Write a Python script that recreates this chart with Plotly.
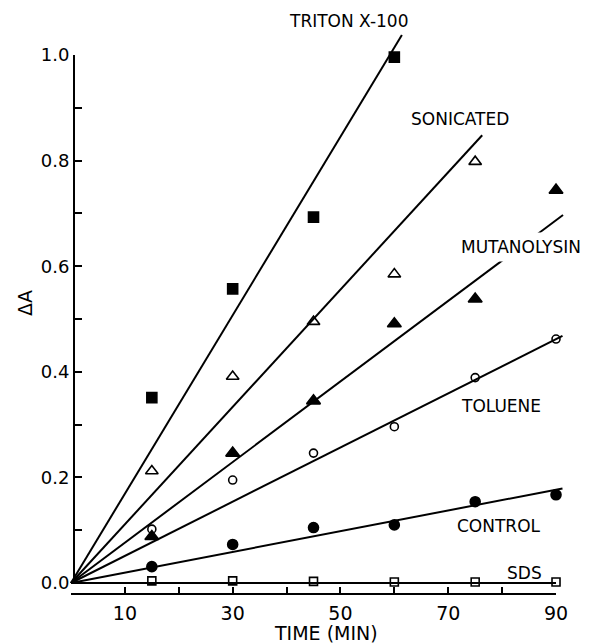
import plotly.graph_objects as go

# ---------------- data ----------------
times = [15, 30, 45, 60, 75, 90]

series_names = ["TRITON X-100", "SONICATED", "MUTANOLYSIN", "TOLUENE", "CONTROL", "SDS"]

triton = [0.351, 0.557, 0.693, 0.996]
sonicated = [0.212, 0.391, 0.495, 0.585, 0.798]
mutanolysin = [0.088, 0.246, 0.345, 0.491, 0.538, 0.744]
toluene = [0.102, 0.195, 0.246, 0.296, 0.389, 0.462]
control = [0.031, 0.073, 0.105, 0.110, 0.154, 0.167]
sds = [0.004, 0.004, 0.003, 0.002, 0.002, 0.002]

# fitted lines through the origin: end point (time, dA)
line_end_time = [61.4, 76.3, 91.3, 91.2, 91.2, 90.0]
line_end_value = [1.038, 0.848, 0.697, 0.468, 0.179, 0.0]

x_tick_vals = [10, 30, 50, 70, 90]
x_minor_vals = [20, 40, 60, 80]
y_tick_vals = [0.0, 0.2, 0.4, 0.6, 0.8, 1.0]
y_tick_text = ["0.0", "0.2", "0.4", "0.6", "0.8", "1.0"]

# ---------------- geometry (pixels) ----------------
W, H = 590, 643
ML, MR, MT, MB = 40, 5, 5, 45
PW, PH = W - ML - MR, H - MT - MB
PX0, PXS = 71.0, 5.389     # x pixel of t=0, px per minute
PY0, PYS = 583.0, 528.0    # y pixel of dA=0, px per unit

def t_of(px):
    return (px - PX0) / PXS

def v_of(py):
    return (PY0 - py) / PYS

def fx(px):
    return (px - ML) / PW

def fy(py):
    return (H - MB - py) / PH

FONT = "DejaVu Sans"

fig = go.Figure()

values = [triton, sonicated, mutanolysin, toluene, control, sds]
symbols = ["square", "triangle-up-open", "triangle-up", "circle-open", "circle", "square-open"]
sizes = [10, 11, 12, 8, 10, 8]

# fitted lines
for name, te, ve in zip(series_names, line_end_time, line_end_value):
    fig.add_trace(go.Scatter(
        x=[0, te], y=[0, ve], mode="lines",
        line=dict(color="black", width=2),
        showlegend=False, hoverinfo="skip", name=name + " fit"))

# data points
for name, vals, sym, sz in zip(series_names, values, symbols, sizes):
    fig.add_trace(go.Scatter(
        x=times[:len(vals)], y=vals, mode="markers", name=name,
        marker=dict(symbol=sym, size=sz, color="black",
                    line=dict(color="black", width=1.6)),
        showlegend=False, cliponaxis=False))

# empty trace to create the visible-axis subplot
fig.add_trace(go.Scatter(x=[None], y=[None], xaxis="x2", yaxis="y2",
                         showlegend=False, hoverinfo="skip"))

# series labels (pixel centres)
label_px = [(348, 21), (460, 119), (520.5, 247), (500.5, 406), (498.5, 526), (524.5, 573)]
for name, (px, py) in zip(series_names, label_px):
    fig.add_annotation(
        x=t_of(px), y=v_of(py), xref="x", yref="y", text=name, showarrow=False,
        font=dict(family=FONT, size=17, color="black"),
        bgcolor="white" if name == "MUTANOLYSIN" else None,
        borderpad=4 if name == "MUTANOLYSIN" else 1,
        xanchor="center", yanchor="middle")

# axis titles
fig.add_annotation(x=fx(326), y=fy(633), xref="paper", yref="paper",
                   text="TIME (MIN)", showarrow=False,
                   xanchor="center", yanchor="middle",
                   font=dict(family=FONT, size=19, color="black"))
fig.add_annotation(x=fx(25), y=fy(303), xref="paper", yref="paper",
                   text="ΔA", showarrow=False, textangle=-90,
                   xanchor="center", yanchor="middle",
                   font=dict(family=FONT, size=19, color="black"))

fig.update_layout(
    width=W, height=H,
    margin=dict(l=ML, r=MR, t=MT, b=MB, pad=0, autoexpand=False),
    paper_bgcolor="white", plot_bgcolor="rgba(0,0,0,0)",
    font=dict(family=FONT, size=18, color="black"),
    xaxis=dict(range=[t_of(ML), t_of(W - MR)], domain=[0, 1], visible=False,
               automargin=False, fixedrange=True),
    yaxis=dict(range=[v_of(H - MB), v_of(MT)], domain=[0, 1], visible=False,
               automargin=False, fixedrange=True),
    xaxis2=dict(
        domain=[fx(PX0), fx(PX0 + 90 * PXS)], range=[0, 90],
        anchor="free", position=fy(594), automargin=False,
        showline=True, linecolor="black", linewidth=2,
        showgrid=False, zeroline=False,
        tickmode="array", tickvals=x_tick_vals,
        ticks="inside", ticklen=6, tickwidth=2, tickcolor="black",
        ticklabelstandoff=2,
        tickfont=dict(family=FONT, size=19, color="black"),
        minor=dict(tickmode="array", tickvals=x_minor_vals, ticks="inside",
                   ticklen=6, tickwidth=2, tickcolor="black"),
        fixedrange=True),
    yaxis2=dict(
        domain=[fy(PY0), fy(PY0 - PYS)], range=[0, 1],
        anchor="free", position=fx(74), automargin=False,
        showline=True, linecolor="black", linewidth=2,
        showgrid=False, zeroline=False,
        tickmode="array", tickvals=y_tick_vals, ticktext=y_tick_text,
        ticks="inside", ticklen=7, tickwidth=2, tickcolor="black",
        tickfont=dict(family=FONT, size=18, color="black"),
        minor=dict(tickmode="linear", tick0=0, dtick=0.1, ticks="inside",
                   ticklen=7, tickwidth=2, tickcolor="black"),
        fixedrange=True),
)

fig.write_html("out.html")
